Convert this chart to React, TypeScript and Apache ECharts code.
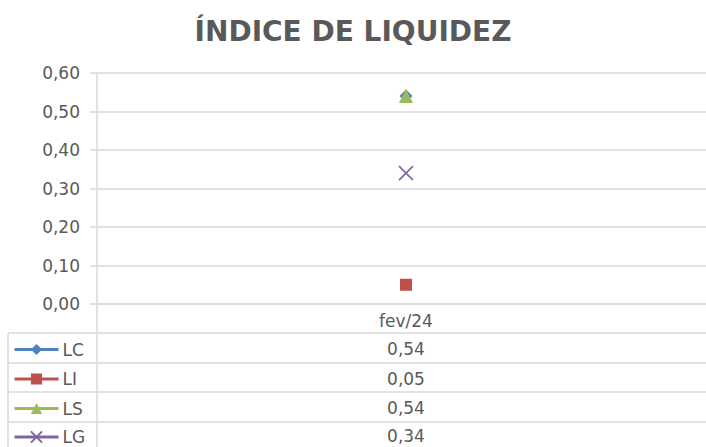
import React, { useEffect, useRef } from "react";
import * as echarts from "echarts";

const categories = ["fev/24"];
const seriesNames = ["LC", "LI", "LS", "LG"];
const lcValues = [0.54];
const liValues = [0.05];
const lsValues = [0.54];
const lgValues = [0.34];
const yTicks = [0, 0.1, 0.2, 0.3, 0.4, 0.5, 0.6];
const titleText = "ÍNDICE DE LIQUIDEZ";

const colors = ["#4F81BD", "#C0504D", "#9BBB59", "#8064A2"];
const symbols = ["diamond", "rect", "triangle", "path://M0,0L10,10M10,0L0,10"];
const symbolSizes = [13, 12, 14, 14];

const fmt = (v: number) => v.toFixed(2).replace(".", ",");

export default function App() {
  const ref = useRef<HTMLDivElement>(null);
  useEffect(() => {
    document.body.style.margin = "0";
    document.body.style.overflow = "hidden";
    const chart = echarts.init(ref.current!, null, { renderer: "svg" });
    const allValues = [lcValues, liValues, lsValues, lgValues];
    const font = "'DejaVu Sans', sans-serif";
    const gridLeft = 97;
    const gridTop = 73;
    const gridBottomY = 304;
    const rowLines = [333, 363, 392, 422, 451];
    const lineColor = "#D9D9D9";
    const textColor = "#595959";
    const fs = 17;

    const graphics: any[] = [
      {
        type: "text",
        x: 353,
        y: 31,
        style: {
          text: titleText,
          fill: textColor,
          font: `bold 28px ${font}`,
          textAlign: "center",
          textVerticalAlign: "middle",
        },
      },
      {
        type: "line",
        shape: { x1: gridLeft, y1: gridBottomY, x2: gridLeft, y2: 447 },
        style: { stroke: lineColor, lineWidth: 1.5 },
      },
      {
        type: "line",
        shape: { x1: 8, y1: rowLines[0], x2: 8, y2: 447 },
        style: { stroke: lineColor, lineWidth: 1.5 },
      },
    ];
    rowLines.forEach((y) => {
      graphics.push({
        type: "line",
        shape: { x1: 8, y1: y, x2: 715, y2: y },
        style: { stroke: lineColor, lineWidth: 1.5 },
      });
    });
    seriesNames.forEach((name, i) => {
      const yc = Math.min((rowLines[i] + rowLines[i + 1]) / 2 + 1, 436);
      graphics.push({
        type: "text",
        x: 406,
        y: yc,
        style: {
          text: fmt(allValues[i][0]),
          fill: textColor,
          font: `${fs}px ${font}`,
          textAlign: "center",
          textVerticalAlign: "middle",
        },
      });
    });

    const legends = seriesNames.map((name, i) => ({
      orient: "vertical",
      left: 13,
      top: Math.min((rowLines[i] + rowLines[i + 1]) / 2, 435.5) - 7,
      padding: 0,
      itemWidth: 44,
      itemHeight: 14,
      itemGap: 4,
      lineStyle: { width: 3 },
      textStyle: { color: textColor, fontSize: fs, fontFamily: font, padding: [0, 0, 0, -1] },
      data: [name],
    }));

    const option: any = {
      animation: false,
      backgroundColor: "#ffffff",
      grid: { left: gridLeft, top: gridTop, right: 0, height: gridBottomY - gridTop },
      legend: legends,
      xAxis: {
        type: "category",
        data: categories,
        boundaryGap: true,
        axisLine: { show: true, lineStyle: { color: lineColor, width: 1.5 } },
        axisTick: { show: false },
        axisLabel: { color: textColor, fontSize: fs, fontFamily: font, margin: 8 },
        splitLine: { show: false },
      },
      yAxis: {
        type: "value",
        min: yTicks[0],
        max: yTicks[yTicks.length - 1],
        interval: 0.1,
        axisLine: { show: true, lineStyle: { color: lineColor, width: 1.5 } },
        axisTick: { show: true, length: 7, lineStyle: { color: lineColor, width: 1.5 } },
        axisLabel: {
          color: textColor,
          fontSize: fs,
          fontFamily: font,
          margin: 17,
          formatter: (v: number) => fmt(v),
        },
        splitLine: { show: true, lineStyle: { color: lineColor, width: 1.5 } },
      },
      series: seriesNames.map((name, i) => ({
        name,
        type: "line",
        data: allValues[i],
        symbol: symbols[i],
        symbolSize: symbolSizes[i],
        showSymbol: true,
        lineStyle: { color: colors[i], width: 3 },
        itemStyle:
          i === 3
            ? { color: "rgba(0,0,0,0)", borderColor: colors[i], borderWidth: 1.6 }
            : { color: colors[i] },
        z: i === 2 ? 4 : 3,
      })),
      graphic: graphics,
    };
    chart.setOption(option);
    return () => chart.dispose();
  }, []);
  return <div ref={ref} style={{ width: 715, height: 447 }} />;
}
